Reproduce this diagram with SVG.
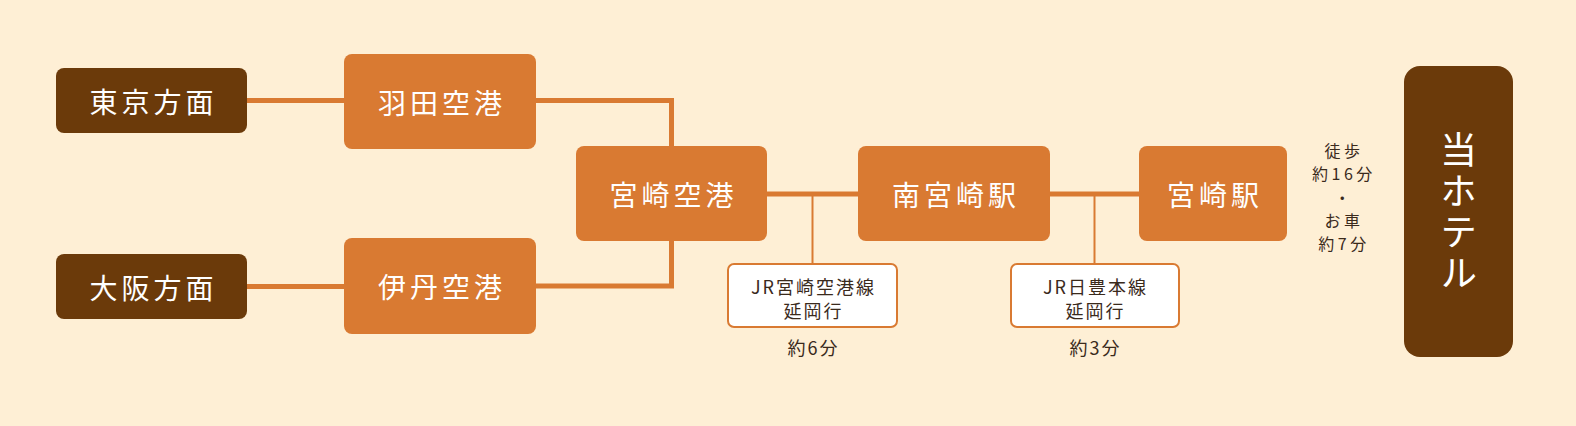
<svg xmlns="http://www.w3.org/2000/svg" width="1576" height="426" viewBox="0 0 1576 426">
<style>
.bg{fill:#FEEFD5}
.dark{fill:#6B3A0A}
.org{fill:#D97A32}
.note{fill:#FFFFFF;stroke:#D97A32;stroke-width:2}
.nt{font-family:"Noto Sans CJK JP","Noto Sans",sans-serif;font-size:28px;fill:#FFFFFF;text-anchor:middle;dominant-baseline:central;letter-spacing:4px}
.st{font-family:"Noto Sans CJK JP","Noto Sans",sans-serif;font-size:18px;fill:#3A2A1C;text-anchor:middle;letter-spacing:2px}
.wt{font-family:"Noto Sans CJK JP","Noto Sans",sans-serif;font-size:16px;fill:#3A2A1C;text-anchor:middle;letter-spacing:3.5px}
.ht{font-family:"Noto Sans CJK JP","Noto Sans",sans-serif;font-size:37px;fill:#FFFFFF;text-anchor:middle;writing-mode:vertical-rl;letter-spacing:4px}
.ln{stroke:#D97A32;stroke-width:5;fill:none}
.br{stroke:#D97A32;stroke-width:2;fill:none}
</style>
<rect class="bg" x="0" y="0" width="1576" height="426"/>
<g id="connectors">
<line class="ln" x1="247" y1="100.5" x2="344" y2="100.5"/>
<line class="ln" x1="247" y1="286.5" x2="344" y2="286.5"/>
<polyline class="ln" points="536,100.5 671.5,100.5 671.5,146"/>
<polyline class="ln" points="536,286 671.5,286 671.5,241"/>
<line class="ln" x1="767" y1="194" x2="858" y2="194"/>
<line class="ln" x1="1050" y1="194" x2="1139" y2="194"/>
<line class="br" x1="812.5" y1="194" x2="812.5" y2="264"/>
<line class="br" x1="1094.5" y1="194" x2="1094.5" y2="264"/>
</g>
<g id="tokyo">
<rect class="dark" x="56" y="68" width="191" height="65" rx="8"/>
<text class="nt" x="153.5" y="100.5">東京方面</text>
</g>
<g id="osaka">
<rect class="dark" x="56" y="254" width="191" height="65" rx="8"/>
<text class="nt" x="153.5" y="286.5">大阪方面</text>
</g>
<g id="haneda">
<rect class="org" x="344" y="54" width="192" height="95" rx="8"/>
<text class="nt" x="442" y="101.5">羽田空港</text>
</g>
<g id="itami">
<rect class="org" x="344" y="238" width="192" height="96" rx="8"/>
<text class="nt" x="442" y="286">伊丹空港</text>
</g>
<g id="miyazaki-airport">
<rect class="org" x="576" y="146" width="191" height="95" rx="8"/>
<text class="nt" x="673.5" y="193.5">宮崎空港</text>
</g>
<g id="minami-miyazaki">
<rect class="org" x="858" y="146" width="192" height="95" rx="8"/>
<text class="nt" x="956" y="193.5">南宮崎駅</text>
</g>
<g id="miyazaki-station">
<rect class="org" x="1139" y="146" width="148" height="95" rx="8"/>
<text class="nt" x="1215" y="193.5">宮崎駅</text>
</g>
<g id="hotel">
<rect class="dark" x="1404" y="66" width="109" height="291" rx="16"/>
<text class="ht" x="1458.5" y="213">当ホテル</text>
</g>
<g id="note-airport-line">
<rect class="note" x="728" y="264" width="169" height="63" rx="6"/>
<text class="st" x="813.5" y="294">JR宮崎空港線<tspan x="813.5" dy="24">延岡行</tspan></text>
<text class="st" x="813.5" y="355">約6分</text>
</g>
<g id="note-nippo-line">
<rect class="note" x="1011" y="264" width="168" height="63" rx="6"/>
<text class="st" x="1095.5" y="294">JR日豊本線<tspan x="1095.5" dy="24">延岡行</tspan></text>
<text class="st" x="1095.5" y="355">約3分</text>
</g>
<g id="note-hotel">
<text class="wt" x="1344" y="157">徒歩<tspan x="1344" dy="23.3">約16分</tspan><tspan x="1344" dy="23.3">・</tspan><tspan x="1344" dy="23.3">お車</tspan><tspan x="1344" dy="23.3">約7分</tspan></text>
</g>
</svg>
